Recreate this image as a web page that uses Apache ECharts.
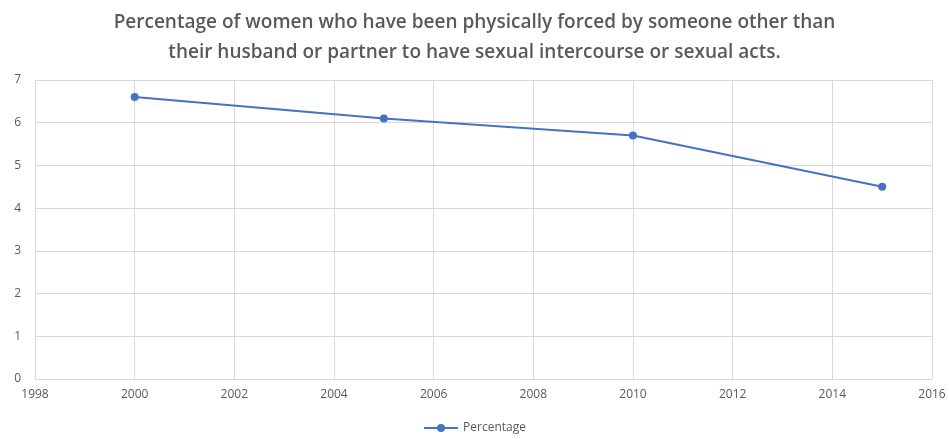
<!DOCTYPE html>
<html>
<head>
<meta charset="utf-8">
<script src="https://cdn.jsdelivr.net/npm/echarts@6/dist/echarts.min.js"></script>
<style>
  html, body { margin: 0; padding: 0; background: #fff; }
  #chart { width: 949px; height: 439px; }
</style>
</head>
<body>
<div id="chart"></div>
<script>
// data
var years = [2000, 2005, 2010, 2015]
var percentage = [6.6, 6.1, 5.7, 4.5]
var seriesName = 'Percentage'
var titleText = 'Percentage of women who have been physically forced by someone other than\ntheir husband or partner to have sexual intercourse or sexual acts.'

var chart = echarts.init(document.getElementById('chart'))
var labelColor = '#595959'
var gridColor = '#d9d9d9'

chart.setOption({
  animation: false,
  textStyle: { fontFamily: 'Open Sans' },
  title: {
    text: titleText,
    left: 'center',
    top: 3,
    textStyle: {
      color: labelColor,
      fontSize: 19,
      fontWeight: 600,
      lineHeight: 30,
      fontFamily: 'Open Sans'
    }
  },
  legend: {
    bottom: 0,
    left: 'center',
    itemWidth: 34,
    itemHeight: 10,
    textStyle: { color: labelColor, fontSize: 12 },
    data: [seriesName]
  },
  grid: {
    left: 35,
    right: 17,
    top: 80,
    bottom: 60,
    containLabel: false
  },
  xAxis: {
    type: 'value',
    min: 1998,
    max: 2016,
    interval: 2,
    axisTick: { show: false },
    axisLine: { show: true, lineStyle: { color: gridColor } },
    axisLabel: { color: labelColor, fontSize: 12, margin: 10, formatter: function (v) { return String(v) } },
    splitLine: { show: true, lineStyle: { color: gridColor, type: 'solid' } }
  },
  yAxis: {
    type: 'value',
    min: 0,
    max: 7,
    interval: 1,
    axisTick: { show: false },
    axisLine: { show: false },
    axisLabel: { color: labelColor, fontSize: 12, margin: 14 },
    splitLine: { show: true, lineStyle: { color: gridColor, type: 'solid' } }
  },
  series: [
    {
      name: seriesName,
      type: 'line',
      data: years.map(function (y, i) { return [y, percentage[i]] }),
      symbol: 'circle',
      symbolSize: 8,
      itemStyle: { color: '#4472c4' },
      lineStyle: { color: '#4472c4', width: 2 }
    }
  ]
})
</script>
</body>
</html>
